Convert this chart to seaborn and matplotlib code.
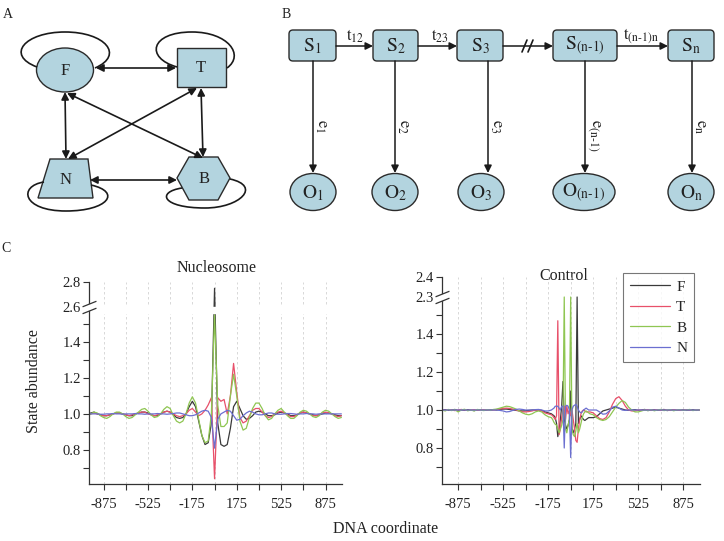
import numpy as np
import pandas as pd
import matplotlib.pyplot as plt
import matplotlib.transforms as mtransforms
import seaborn as sns
from matplotlib.patches import Ellipse, Rectangle, Polygon, FancyBboxPatch, FancyArrowPatch, PathPatch
from matplotlib.path import Path
from matplotlib.ticker import FixedLocator, FixedFormatter, NullFormatter

sns.set_style("white")
plt.rcParams['font.family'] = ['Liberation Serif', 'DejaVu Serif']
plt.rcParams['mathtext.fontset'] = 'stix'
plt.rcParams['axes.unicode_minus'] = False

# ---- data for panel C ----
states = ['F', 'T', 'B', 'N']
palette = {'F': '#3a3a3a', 'T': '#e8506a', 'B': '#8fc652', 'N': '#6b6fd0'}

nuc_pos = np.arange(-1000, 1001, 25)
nuc_F = [1.0, 1.005, 1.01, 1.0, 0.995, 0.99, 0.99, 0.995, 1.0, 1.005,
         1.005, 1.0, 0.995, 0.99, 0.99, 1.0, 1.005, 1.01, 1.01, 1.005,
         0.995, 0.99, 0.99, 1.0, 1.01, 1.015, 1.01, 0.995, 0.98, 0.975,
         0.98, 1.0, 1.04, 1.07, 1.04, 0.96, 0.88, 0.83, 0.84, 0.95,
         2.75, 0.95, 0.83, 0.82, 0.83, 0.92, 1.04, 1.07, 1.03, 0.99,
         0.97, 0.975, 0.99, 1.01, 1.015, 1.01, 1.0, 0.99, 0.99, 0.995,
         1.005, 1.01, 1.005, 1.0, 0.99, 0.99, 0.995, 1.005, 1.01, 1.005,
         1.0, 0.995, 0.99, 0.995, 1.0, 1.005, 1.005, 1.0, 0.995, 0.99,
         0.99]
nuc_T = [0.995, 1.0, 1.005, 1.0, 0.995, 0.99, 0.99, 0.995, 1.0, 1.005,
         1.005, 1.0, 0.995, 0.99, 0.995, 1.0, 1.005, 1.01, 1.01, 1.0,
         0.995, 0.99, 0.995, 1.0, 1.01, 1.015, 1.01, 1.0, 0.99, 0.985,
         0.99, 1.0, 1.02, 1.03, 1.01, 0.99, 1.0, 1.02, 1.05, 1.09,
         0.64, 1.09, 1.07, 1.08, 1.0, 1.1, 1.28, 1.12, 0.98, 0.95,
         0.96, 0.99, 1.02, 1.03, 1.03, 1.01, 0.99, 0.98, 0.985, 1.0,
         1.01, 1.015, 1.005, 0.995, 0.985, 0.985, 0.995, 1.005, 1.01, 1.005,
         1.0, 0.99, 0.99, 0.995, 1.005, 1.01, 1.005, 1.0, 0.99, 0.985,
         0.99]
nuc_B = [0.99, 1.0, 1.01, 1.005, 0.99, 0.98, 0.975, 0.985, 1.0, 1.01,
         1.01, 1.0, 0.985, 0.975, 0.98, 0.995, 1.01, 1.025, 1.03, 1.015,
         0.995, 0.98, 0.985, 1.0, 1.025, 1.04, 1.03, 0.99, 0.96, 0.95,
         0.96, 1.0, 1.06, 1.095, 1.06, 0.97, 0.88, 0.84, 0.85, 1.0,
         1.55, 1.05, 0.93, 0.93, 0.95, 1.1, 1.22, 1.1, 0.96, 0.91,
         0.92, 0.98, 1.03, 1.06, 1.06, 1.03, 0.99, 0.967, 0.975, 1.0,
         1.02, 1.03, 1.01, 0.99, 0.975, 0.975, 0.99, 1.01, 1.02, 1.015,
         1.0, 0.985, 0.98, 0.99, 1.01, 1.02, 1.015, 1.0, 0.985, 0.975,
         0.98]
nuc_N = [1.0, 1.0, 1.0, 1.0, 0.998, 0.998, 1.0, 1.0, 1.002, 1.0,
         1.0, 0.998, 1.0, 1.0, 1.0, 1.002, 1.0, 1.0, 0.998, 1.0,
         1.0, 1.0, 1.002, 1.0, 1.0, 0.998, 1.0, 1.002, 1.005, 1.005,
         1.0, 0.995, 0.99, 0.99, 0.995, 1.005, 1.015, 1.02, 1.015, 0.98,
         0.81, 0.97, 1.0, 1.01, 1.02, 1.015, 0.99, 0.965, 0.97, 0.99,
         1.005, 1.015, 1.01, 1.0, 0.995, 0.995, 1.0, 1.005, 1.005, 1.0,
         0.998, 0.998, 1.0, 1.002, 1.002, 1.0, 0.998, 1.0, 1.0, 1.002,
         1.0, 1.0, 0.998, 1.0, 1.0, 1.0, 1.0, 1.0, 1.0, 1.0,
         1.0]

ctl_pos = np.concatenate([np.arange(-1000, -174, 25), np.arange(-150, 151, 10),
                          np.arange(175, 1001, 25)])
ctl_F = [1.0, 1.002, 0.998, 1.0, 1.003, 0.997, 1.0, 0.998, 1.002, 1.0,
         0.997, 1.0, 1.002, 0.998, 1.0, 1.0, 1.002, 1.0, 1.003, 1.005,
         1.005, 1.003, 1.0, 0.998, 0.996, 0.995, 0.996, 0.998, 1.0, 1.0,
         1.0, 0.998, 0.99, 0.985,
         0.98, 0.975, 0.97, 0.96, 0.93, 0.86, 0.9, 0.95, 1.02, 1.15,
         0.95, 0.92, 0.9, 0.92, 0.95, 1.1, 0.9, 0.88, 0.9, 0.93,
         2.3, 0.93, 0.95, 0.97, 0.96, 0.95, 0.945, 0.95, 0.955, 0.96,
         0.96,
         0.96, 0.965, 0.98, 0.995, 1.0, 1.005, 1.01, 1.015, 1.01, 1.005,
         1.0, 0.998, 1.0, 1.002, 0.998, 1.0, 1.003, 0.997, 1.0, 1.002,
         0.998, 1.0, 1.003, 0.997, 1.0, 1.002, 0.998, 1.0, 1.002, 0.998,
         1.0, 1.002, 0.998, 1.0]
ctl_T = [1.0, 0.998, 1.002, 1.0, 0.997, 1.0, 1.003, 1.0, 0.998, 1.0,
         1.002, 0.998, 1.0, 1.002, 1.0, 0.998, 1.0, 1.003, 1.005, 1.008,
         1.01, 1.008, 1.005, 1.0, 0.995, 0.99, 0.99, 0.992, 0.995, 1.0,
         1.0, 0.995, 0.985, 0.98,
         0.975, 0.97, 0.96, 0.95, 0.97, 1.47, 0.87, 0.9, 0.96, 1.0,
         1.02, 0.95, 1.02, 0.98, 1.0, 0.97, 1.0, 0.95, 0.9, 0.84,
         0.83, 0.9, 0.95, 0.98, 0.995, 1.0, 0.995, 0.99, 0.99, 0.99,
         0.99,
         0.985, 0.97, 0.955, 0.95, 0.96, 0.99, 1.03, 1.06, 1.07, 1.05,
         1.02, 1.0, 0.995, 0.995, 1.0, 0.998, 1.0, 1.002, 0.998, 1.0,
         1.002, 0.998, 1.0, 1.0, 0.998, 1.002, 1.0, 0.998, 1.0, 1.002,
         1.0, 0.998, 1.0, 1.0]
ctl_B = [1.0, 0.995, 1.003, 0.997, 1.002, 0.99, 1.0, 1.004, 0.996, 1.0,
         0.995, 1.003, 1.0, 0.997, 1.002, 0.998, 1.003, 1.005, 1.01, 1.015,
         1.02, 1.018, 1.012, 1.005, 0.995, 0.985, 0.978, 0.975, 0.98, 0.99,
         0.995, 0.99, 0.975, 0.965,
         0.96, 0.95, 0.935, 0.925, 0.92, 0.9, 0.88, 0.9, 0.92, 0.95,
         2.3, 0.9, 0.88, 0.92, 0.95, 2.3, 0.9, 0.87, 0.86, 0.89,
         0.93, 0.88, 0.9, 0.93, 0.96, 0.98, 0.99, 0.995, 0.99, 0.985,
         0.98,
         0.975, 0.96, 0.95, 0.945, 0.95, 0.965, 0.99, 1.015, 1.035, 1.05,
         1.04, 1.015, 1.0, 0.99, 0.99, 0.995, 1.0, 0.997, 1.002, 0.996,
         1.0, 1.003, 0.997, 1.0, 1.002, 0.996, 1.0, 1.002, 0.998, 1.0,
         1.003, 0.997, 1.0, 1.0]
ctl_N = [1.0, 1.0, 1.0, 1.0, 1.0, 1.0, 1.0, 1.0, 1.0, 1.0,
         1.0, 1.0, 1.0, 1.0, 1.0, 1.0, 1.0, 1.0, 0.998, 0.995,
         0.99, 0.992, 0.998, 1.003, 1.005, 1.003, 1.0, 1.0, 1.0, 1.002,
         1.003, 1.0, 0.995, 0.995,
         1.0, 1.005, 1.01, 1.02, 1.02, 1.02, 1.01, 1.0, 1.02, 1.02,
         0.8, 1.02, 1.025, 1.02, 1.0, 0.75, 1.0, 1.02, 1.025, 1.03,
         1.02, 1.0, 0.99, 0.985, 0.99, 1.0, 1.005, 1.01, 1.005, 1.0,
         1.0,
         1.0, 1.0, 0.99, 0.978, 0.98, 0.995, 1.015, 1.02, 1.01, 1.0,
         0.998, 1.0, 1.0, 1.0, 1.0, 1.0, 1.0, 1.0, 1.0, 1.0,
         1.0, 1.0, 1.0, 1.0, 1.0, 1.0, 1.0, 1.0, 1.0, 1.0,
         1.0, 1.0, 1.0, 1.0]

x_major = [-875, -525, -175, 175, 525, 875]
x_minor = [-700, -350, 0, 350, 700]
nuc_yticks = [0.8, 1.0, 1.2, 1.4, 2.6, 2.8]
ctl_yticks = [0.8, 1.0, 1.2, 1.4, 2.3, 2.4]
y_minor = [0.7, 0.9, 1.1, 1.3, 1.5]


def long_df(pos, F, T, B, N):
    df = pd.DataFrame({'pos': pos, 'F': F, 'T': T, 'B': B, 'N': N})
    return df.melt(id_vars='pos', var_name='state', value_name='abundance')


def broken(a, b, g, k):
    # linear below a, squeezed gap between a and b, linear (factor k) above b
    def fwd(y):
        y = np.asarray(y, dtype=float)
        return np.where(y <= a, y, np.where(y < b, a + (y - a) * g / (b - a), a + g + (y - b) * k))

    def inv(u):
        u = np.asarray(u, dtype=float)
        return np.where(u <= a, u, np.where(u < a + g, a + (u - a) * (b - a) / g, b + (u - a - g) / k))
    return fwd, inv


fig = plt.figure(figsize=(7.24, 5.41), dpi=100)

# overlay axes in pixel coordinates for the diagrams and loose labels
ax0 = fig.add_axes([0, 0, 1, 1])
ax0.set_xlim(0, 724)
ax0.set_ylim(541, 0)
ax0.axis('off')

fill = '#b3d4df'
ec = '#2b2b2b'

# ---- panel A ----
ax0.add_patch(Ellipse((65, 70), 57, 44, fc=fill, ec=ec, lw=1))
ax0.add_patch(Rectangle((177, 48), 49, 39, fc=fill, ec=ec, lw=1))
ax0.add_patch(Polygon([(50, 159), (88, 159), (93, 198), (38, 198)], closed=True, fc=fill, ec=ec, lw=1))
ax0.add_patch(Polygon([(177, 178), (189, 157), (218, 157), (230, 178), (218, 200), (189, 200)],
                      closed=True, fc=fill, ec=ec, lw=1))
for lab, (x, y) in zip(['F', 'T', 'N', 'B'], [(65, 71), (201, 68), (66, 180), (204, 179)]):
    ax0.text(x, y, lab, ha='center', va='center', fontsize=12, color='#222')

C4 = [Path.MOVETO, Path.CURVE4, Path.CURVE4, Path.CURVE4, Path.CURVE4, Path.CURVE4, Path.CURVE4]
loops = [
    [(37, 67), (5, 55), (25, 32), (65, 32), (105, 32), (125, 55), (95, 68)],
    [(177, 67), (145, 58), (150, 32), (192, 32), (228, 32), (245, 55), (227, 68)],
    [(44, 182), (18, 186), (22, 211), (66, 211), (108, 211), (122, 192), (91, 185)],
    [(182, 188), (156, 192), (162, 208), (205, 208), (240, 208), (262, 186), (230, 179)],
]
for v in loops:
    ax0.add_patch(PathPatch(Path(v, C4), fill=False, ec='#1a1a1a', lw=1.2))

links = [((96, 68), (176, 68)), ((65, 92), (66, 159)), ((201, 88), (203, 157)),
         ((90, 180), (177, 180)), ((67, 93), (203, 158)), ((197, 88), (68, 159))]
for p, q in links:
    ax0.add_patch(FancyArrowPatch(p, q, arrowstyle='<|-|>', mutation_scale=11, lw=1.2,
                                  color='#1a1a1a', shrinkA=0, shrinkB=0))

# ---- panel B ----
s_x = [(289, 336), (373, 418), (457, 503), (553, 617), (668, 714)]
s_lab = [r'$\mathrm{S_1}$', r'$\mathrm{S_2}$', r'$\mathrm{S_3}$',
         r'$\mathrm{S_{(n\text{-}1)}}$', r'$\mathrm{S_n}$']
o_x = [313, 395, 481, 584, 691]
o_w = [46, 46, 46, 62, 46]
o_lab = [r'$\mathrm{O_1}$', r'$\mathrm{O_2}$', r'$\mathrm{O_3}$',
         r'$\mathrm{O_{(n\text{-}1)}}$', r'$\mathrm{O_n}$']
e_x = [313, 395, 488, 585, 692]
e_lab = [r'$\mathrm{e_1}$', r'$\mathrm{e_2}$', r'$\mathrm{e_3}$',
         r'$\mathrm{e_{(n\text{-}1)}}$', r'$\mathrm{e_n}$']

for (x0, x1), lab in zip(s_x, s_lab):
    ax0.add_patch(FancyBboxPatch((x0, 30), x1 - x0, 31, boxstyle='round,pad=0,rounding_size=4',
                                 fc=fill, ec=ec, lw=1))
    ax0.text((x0 + x1) / 2, 46, lab, ha='center', va='center', fontsize=14, color='#222')
for x, w, lab in zip(o_x, o_w, o_lab):
    ax0.add_patch(Ellipse((x, 192), w, 37, fc=fill, ec=ec, lw=1))
    ax0.text(x, 193, lab, ha='center', va='center', fontsize=14, color='#222')
for x, lab in zip(e_x, e_lab):
    ax0.add_patch(FancyArrowPatch((x, 61), (x, 173), arrowstyle='-|>', mutation_scale=11, lw=1.1,
                                  color='#1a1a1a', shrinkA=0, shrinkB=0))
    ax0.text(x + 8, 119, lab, ha='center', va='top', rotation=270, fontsize=12, color='#222')
for a, b in [(336, 373), (418, 457), (503, 553), (617, 668)]:
    ax0.add_patch(FancyArrowPatch((a, 46), (b, 46), arrowstyle='-|>', mutation_scale=11, lw=1.1,
                                  color='#1a1a1a', shrinkA=0, shrinkB=0))
ax0.plot([522, 527], [52, 40], color='#1a1a1a', lw=1.2)
ax0.plot([528, 533], [52, 40], color='#1a1a1a', lw=1.2)
for x, lab in [(355, r'$\mathrm{t_{12}}$'), (440, r'$\mathrm{t_{23}}$'),
               (641, r'$\mathrm{t_{(n\text{-}1)n}}$')]:
    ax0.text(x, 36, lab, ha='center', va='center', fontsize=12, color='#222')

# panel letters and shared labels
ax0.text(8, 15, 'A', ha='center', va='center', fontsize=10, color='#222')
ax0.text(286, 15, 'B', ha='center', va='center', fontsize=10, color='#222')
ax0.text(6, 248, 'C', ha='center', va='center', fontsize=10, color='#222')
ax0.text(386, 529, 'DNA coordinate', ha='center', va='center', fontsize=11.5, color='#222')
ax0.text(34, 381, 'State abundance', ha='center', va='center', rotation=90, fontsize=11.5, color='#222')
ax0.text(217, 268, 'Nucleosome', ha='center', va='center', fontsize=11.5, color='#222')
ax0.text(564, 276, 'Control', ha='center', va='center', fontsize=11.5, color='#222')

# ---- panel C ----
ax_n = fig.add_axes([89 / 724, 1 - 484 / 541, 253 / 724, 202 / 541])
ax_c = fig.add_axes([442 / 724, 1 - 484 / 541, 258 / 724, 207 / 541])

panels = [
    (ax_n, long_df(nuc_pos, nuc_F, nuc_T, nuc_B, nuc_N), (-990, 1005), (0.611, 2.8),
     (1.56, 2.6, 0.033, 0.694), nuc_yticks, True),
    (ax_c, long_df(ctl_pos, ctl_F, ctl_T, ctl_B, ctl_N), (-1000, 1005), (0.6105, 2.4),
     (1.56, 2.3, 0.035, 1.053), ctl_yticks, False),
]

marker_lines = Path([(-1, -0.9), (1, -0.1), (-1, 0.1), (1, 0.9)],
                    [Path.MOVETO, Path.LINETO, Path.MOVETO, Path.LINETO])
marker_fill = Path([(-1, -0.9), (1, -0.1), (1, 0.9), (-1, 0.1), (-1, -0.9)])

for ax, df, xlim, ylim, brk, yticks, gap in panels:
    sns.lineplot(data=df, x='pos', y='abundance', hue='state', hue_order=states,
                 palette=palette, estimator=None, errorbar=None, lw=0.9, ax=ax,
                 legend=(ax is ax_c))
    fwd, inv = broken(*brk)
    ax.set_yscale('function', functions=(fwd, inv))
    ax.set_ylim(*ylim)
    ax.set_xlim(*xlim)
    ax.yaxis.set_major_locator(FixedLocator(yticks))
    ax.yaxis.set_major_formatter(FixedFormatter([f'{v:.1f}' for v in yticks]))
    ax.yaxis.set_minor_locator(FixedLocator(y_minor))
    ax.yaxis.set_minor_formatter(NullFormatter())
    ax.set_xticks(x_major)
    ax.set_xticklabels([str(v) for v in x_major])
    ax.set_xticks(x_minor, minor=True)
    ax.set_xlabel('')
    ax.set_ylabel('')
    ax.grid(True, axis='x', which='both', ls=(0, (3, 3)), color='#d2d2d2', lw=0.6)
    ax.grid(False, axis='y')
    for s in ['top', 'right']:
        ax.spines[s].set_visible(False)
    for s in ['left', 'bottom']:
        ax.spines[s].set_color('#333333')
        ax.spines[s].set_linewidth(0.9)
    ax.tick_params(axis='both', which='both', direction='out', length=4, width=0.8,
                   color='#333333', labelsize=10.5, labelcolor='#222222')
    ax.tick_params(axis='y', which='both', pad=2, left=True)
    ax.tick_params(axis='x', which='both', pad=6, bottom=True)
    ax.set_facecolor('none')

    trans = mtransforms.blended_transform_factory(ax.transAxes, ax.transData)
    if gap:
        ax.axhspan(brk[0], brk[1], xmin=0.01, xmax=1, color='white', zorder=3)
    ax.plot([0], [brk[1]], marker=marker_fill, ms=10, mfc='white', mec='none', transform=trans,
            clip_on=False, zorder=5)
    ax.plot([0], [brk[1]], marker=marker_lines, ms=10, mew=0.9, color='#333333', transform=trans,
            clip_on=False, zorder=6)

h, l = ax_c.get_legend_handles_labels()
leg = ax_c.legend(h[:4], l[:4], loc='upper right', bbox_to_anchor=(694 / 724, 1 - 273 / 541),
                  bbox_transform=fig.transFigure, frameon=True, fancybox=False, edgecolor='#555555',
                  fontsize=11, handlelength=2.6, handletextpad=0.4, borderpad=0.45,
                  labelspacing=0.45, borderaxespad=0)
leg.get_frame().set_linewidth(0.8)

fig.savefig('out.png', dpi=100)
